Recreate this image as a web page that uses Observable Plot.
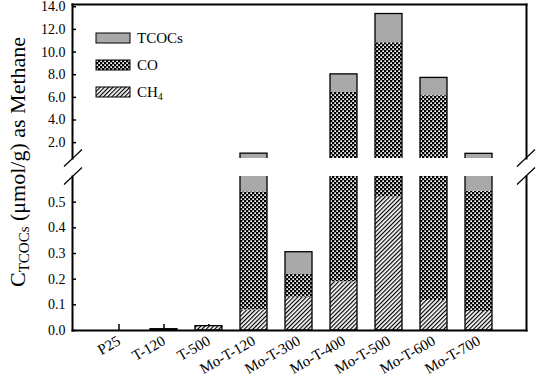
<!DOCTYPE html>
<html><head><meta charset="utf-8">
<script src="https://cdn.jsdelivr.net/npm/d3@7"></script>
<script src="https://cdn.jsdelivr.net/npm/@observablehq/plot@0.6"></script>
<style>
body{margin:0;background:#fff}
#chart{position:relative;width:538px;height:379px;font-family:"Liberation Serif","Times New Roman",serif;overflow:hidden}
#chart > svg{position:absolute;left:0;overflow:visible}
</style></head><body>
<svg width="0" height="0" style="position:absolute">
<defs>
<pattern id="hatch" width="3" height="3" patternUnits="userSpaceOnUse" patternTransform="rotate(45)">
<rect width="3" height="3" fill="white"/>
<line x1="0.6" y1="0" x2="0.6" y2="3" stroke="black" stroke-width="1.2"/>
</pattern>
<pattern id="dots" width="4" height="4" patternUnits="userSpaceOnUse">
<rect width="4" height="4" fill="black"/>
<rect x="0.3" y="0.3" width="1.7" height="1.7" fill="white"/>
<rect x="2.3" y="2.3" width="1.7" height="1.7" fill="white"/>
</pattern>
</defs>
</svg>
<div id="chart"></div>
<script>
const categories = ["P25","T-120","T-500","Mo-T-120","Mo-T-300","Mo-T-400","Mo-T-500","Mo-T-600","Mo-T-700"];
const ch4Values  = [0, 0, 0.017, 0.08, 0.13, 0.19, 0.52, 0.117, 0.074];
const coValues   = [0, 0.005, 0, 0.46, 0.088, 6.25, 10.3, 6.03, 0.468];
const tcocsRest  = [0, 0, 0, 0.49, 0.087, 1.59, 2.54, 1.57, 0.47];
const seriesNames = ["CH4","CO","TCOCs"];
const upperTicks = [2,4,6,8,10,12,14];
const lowerTicks = [0,0.1,0.2,0.3,0.4,0.5];

const rows = categories.flatMap((c,i)=>[
  {cat:c, series:"CH4", value:ch4Values[i]},
  {cat:c, series:"CO", value:coValues[i]},
  {cat:c, series:"TCOCs", value:tcocsRest[i]}
]);
const totals = categories.map((c,i)=>({cat:c, total:ch4Values[i]+coValues[i]+tcocsRest[i]})).filter(d=>d.total>0);

const font = '"Liberation Serif","Times New Roman",serif';
const xScale = {domain:categories, paddingInner:0.39, paddingOuter:0.71};
const colorScale = {domain:seriesNames, range:["url(#hatch)","url(#dots)","#a9a9a9"]};
const style = {fontFamily:font, fontSize:"14px", background:"transparent", color:"black"};

function barMarks(){
  return [
    Plot.barY(rows, Plot.stackY({x:"cat", y:"value", fill:"series", order:seriesNames, clip:true})),
    Plot.barY(totals, {x:"cat", y:"total", fill:"none", stroke:"black", strokeWidth:1.3, clip:true})
  ];
}

const upper = Plot.plot({
  width:538, height:170, marginTop:4, marginBottom:12, marginLeft:72, marginRight:12,
  style,
  x:{...xScale, axis:null},
  y:{domain:[0.6,14.2]},
  color:colorScale,
  marks:[
    Plot.axisY(upperTicks, {tickSize:4, dx:4, tickPadding:7, tickFormat:".1f", strokeWidth:1.5, fontSize:14, label:null}),
    ...barMarks(),
    Plot.frame({anchor:"top", strokeWidth:2}),
    Plot.frame({anchor:"left", strokeWidth:2}),
    Plot.frame({anchor:"right", strokeWidth:2})
  ]
});
upper.style.top = "0px";

const lower = Plot.plot({
  width:538, height:205, marginTop:2, marginBottom:49, marginLeft:72, marginRight:12,
  style,
  x:{...xScale},
  y:{domain:[0,0.6]},
  color:colorScale,
  marks:[
    Plot.axisY(lowerTicks, {tickSize:4, dx:4, tickPadding:7, tickFormat:".1f", strokeWidth:1.5, fontSize:14, label:null}),
    Plot.axisX({tickSize:6, dy:-6, tickPadding:9, tickRotate:-30, strokeWidth:1.5, fontSize:15, label:null}),
    ...barMarks(),
    Plot.frame({anchor:"bottom", strokeWidth:2}),
    Plot.frame({anchor:"left", strokeWidth:2}),
    Plot.frame({anchor:"right", strokeWidth:2})
  ]
});
lower.style.top = "174px";

const chart = document.getElementById("chart");
chart.appendChild(upper);
chart.appendChild(lower);

// overlay: axis-break marks, y title, legend
const ov = d3.select(chart).append("svg")
  .attr("width",538).attr("height",379).style("top","0px")
  .style("font-family",font);
const breaks = [[73,158],[73,176],[526,158],[526,176]];
ov.selectAll("line.brk").data(breaks).join("line").attr("class","brk")
  .attr("x1",d=>d[0]-9).attr("y1",d=>d[1]+8.5)
  .attr("x2",d=>d[0]+9).attr("y2",d=>d[1]-8.5)
  .attr("stroke","black").attr("stroke-width",1.2);

const title = ov.append("text")
  .attr("transform","translate(25,162) rotate(-90)")
  .attr("text-anchor","middle").attr("font-size",22);
title.append("tspan").text("C");
title.append("tspan").attr("font-size",15).attr("dy",4).text("TCOCs");
title.append("tspan").attr("dy",-4).text(" (μmol/g) as Methane");

const legendItems = [
  {label:"TCOCs", fill:"#a9a9a9", y:33},
  {label:"CO", fill:"url(#dots)", y:60},
  {label:"CH", sub:"4", fill:"url(#hatch)", y:87}
];
const lg = ov.selectAll("g.lg").data(legendItems).join("g").attr("class","lg");
lg.append("rect").attr("x",96).attr("y",d=>d.y).attr("width",34).attr("height",10)
  .attr("fill",d=>d.fill).attr("stroke","black").attr("stroke-width",1);
const lt = lg.append("text").attr("x",137).attr("y",d=>d.y+10).attr("font-size",15);
lt.append("tspan").text(d=>d.label);
lt.filter(d=>d.sub).append("tspan").attr("font-size",10).attr("dy",3).text(d=>d.sub);
</script>
</body></html>
